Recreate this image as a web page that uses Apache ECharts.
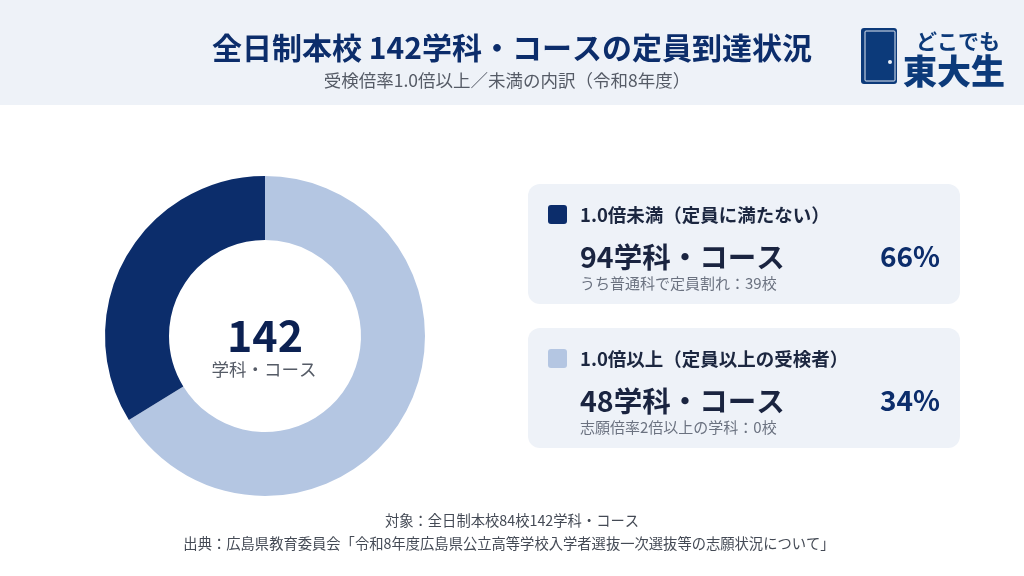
<!DOCTYPE html>
<html><head><meta charset="utf-8">
<script src="https://cdn.jsdelivr.net/npm/echarts@6/dist/echarts.min.js"></script>
<style>html,body{margin:0;padding:0;background:#fff}#c{width:1024px;height:576px}</style>
</head><body><div id="c"></div>
<script>
const categories = ['1.0倍未満（定員に満たない）', '1.0倍以上（定員以上の受検者）'];
const values = [94, 48];
const percents = ['66%', '34%'];
const subNotes = ['うち普通科で定員割れ：39校', '志願倍率2倍以上の学科：0校'];
const total = 142;
const colors = ['#b4c6e2', '#0c2d6b'];
const legendColors = ['#0c2d6b', '#b4c6e2'];
const F = '"Noto Sans CJK JP", "Noto Sans", sans-serif';

const chart = echarts.init(document.getElementById('c'));
const cards = [];
categories.forEach((cat, i) => {
  const y0 = 184 + i * 144;
  cards.push(
    {type:'rect', shape:{x:528, y:y0, width:432, height:120, r:12}, style:{fill:'#eef2f8'}, z:1},
    {type:'rect', shape:{x:548, y:y0+21, width:19, height:19, r:3}, style:{fill:legendColors[i]}, z:2},
    {type:'text', x:580, y:y0+31, style:{text:cat, fill:'#1c2740', font:'bold 18.5px '+F, textVerticalAlign:'middle'}, z:2},
    {type:'text', x:580, y:y0+73, style:{text:values[i]+'学科・コース', fill:'#1a2440', font:'bold 28.5px '+F, textVerticalAlign:'middle'}, z:2},
    {type:'text', x:940, y:y0+72, style:{text:percents[i], fill:'#0c2d6b', font:'bold 28px '+F, textAlign:'right', textVerticalAlign:'middle'}, z:2},
    {type:'text', x:580, y:y0+99, style:{text:subNotes[i], fill:'#6b7280', font:'15px '+F, textVerticalAlign:'middle'}, z:2}
  );
});

chart.setOption({
  backgroundColor:'#ffffff',
  animation:false,
  series:[{
    type:'pie',
    center:[265,336],
    radius:[96,160],
    startAngle:90,
    clockwise:true,
    silent:true,
    label:{show:false},
    labelLine:{show:false},
    itemStyle:{borderWidth:0},
    data: values.map((v,i)=>({name:categories[i], value:v, itemStyle:{color:colors[i]}}))
  }],
  graphic:[
    {type:'rect', shape:{x:0, y:0, width:1024, height:105}, style:{fill:'#eef2f8'}, z:0},
    {type:'text', x:512, y:48, style:{text:'全日制本校 142学科・コースの定員到達状況', fill:'#0c2d6b', font:'bold 30px '+F, textAlign:'center', textVerticalAlign:'middle'}},
    {type:'text', x:507, y:80, style:{text:'受検倍率1.0倍以上／未満の内訳（令和8年度）', fill:'#555b66', font:'17.5px '+F, textAlign:'center', textVerticalAlign:'middle'}},
    // logo
    {type:'rect', shape:{x:861, y:28, width:36, height:56, r:3}, style:{fill:'#0c3a7a'}},
    {type:'rect', shape:{x:865, y:31, width:30, height:50, r:1}, style:{fill:'#0c3a7a', stroke:'#dfe6f1', lineWidth:1}},
    {type:'circle', shape:{cx:890, cy:62, r:2}, style:{fill:'#eef2f8'}},
    {type:'text', x:916, y:41, style:{text:'どこでも', fill:'#0c3a7a', font:'bold 21px '+F, textVerticalAlign:'middle'}},
    {type:'text', x:903, y:71, style:{text:'東大生', fill:'#0c3a7a', font:'900 34px '+F, textVerticalAlign:'middle'}},
    // center text
    {type:'text', x:265, y:336, style:{text:String(total), fill:'#0c2152', font:'bold 43px '+F, textAlign:'center', textVerticalAlign:'middle'}},
    {type:'text', x:264, y:369, style:{text:'学科・コース', fill:'#555b66', font:'17.5px '+F, textAlign:'center', textVerticalAlign:'middle'}},
    ...cards,
    {type:'text', x:512, y:521, style:{text:'対象：全日制本校84校142学科・コース', fill:'#444a55', font:'14.3px '+F, textAlign:'center', textVerticalAlign:'middle'}},
    {type:'text', x:509, y:544, style:{text:'出典：広島県教育委員会「令和8年度広島県公立高等学校入学者選抜一次選抜等の志願状況について」', fill:'#444a55', font:'14.3px '+F, textAlign:'center', textVerticalAlign:'middle'}}
  ]
});
</script></body></html>
